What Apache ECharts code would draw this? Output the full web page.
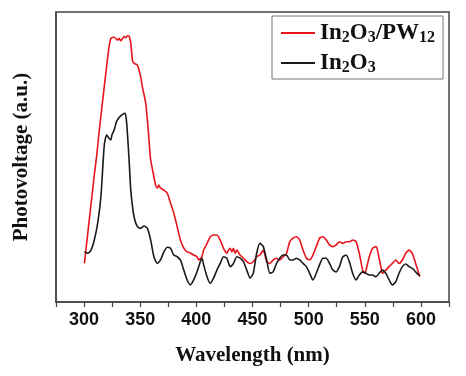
<!DOCTYPE html>
<html>
<head>
<meta charset="utf-8">
<script src="https://cdn.jsdelivr.net/npm/echarts@6/dist/echarts.min.js"></script>
<style>
html,body{margin:0;padding:0;background:#fff;}
#c{width:466px;height:376px;}
</style>
</head>
<body>
<div id="c"></div>
<script>
// Wavelength (nm) and photovoltage (a.u.)
const redWave = [300.3,309.1,311.2,313.3,316.8,319.5,322.1,323.9,326.8,329.8,331.2,332.7,334.2,335.7,337.2,338.7,340.1,341.6,343.1,344.5,347.5,350.4,351.9,354.9,356.9,357.8,359.3,362.2,363.7,365.2,366.6,368.1,371.1,374.1,377.0,379.9,382.9,385.8,388.8,391.8,394.7,397.6,400.6,402.0,405.0,406.5,409.5,412.4,415.3,418.3,421.2,424.2,427.2,428.6,430.1,431.6,433.0,434.5,436.0,438.9,441.9,444.9,447.8,450.7,453.7,456.6,459.6,462.6,465.5,468.4,471.4,474.3,477.3,480.3,483.2,486.1,489.1,492.0,495.0,498.0,500.9,503.8,506.8,509.7,512.7,515.7,518.6,521.5,524.5,527.4,530.4,533.4,536.3,539.2,542.2,545.1,548.1,549.6,551.1,554.0,556.9,559.9,561.3,564.3,565.8,568.7,571.7,574.6,577.6,580.5,583.5,586.5,589.4,592.3,595.3,599.0];
const redVal = [13.3,43.8,50.3,58.3,70.3,79.3,87.6,90.9,91.3,90.3,90.9,90.1,90.9,91.5,91.1,91.8,91.7,89.2,83.4,82.3,81.7,77.7,74.2,68.6,60.4,55.9,49.0,43.2,40.3,39.3,40.3,39.3,38.6,37.5,34.1,30.7,26.0,21.4,18.6,17.3,16.9,16.2,15.6,14.5,15.6,17.9,20.2,22.5,23.1,23.1,21.4,18.5,16.8,17.9,18.5,17.3,18.5,16.8,17.9,16.2,15.1,13.9,13.3,13.9,15.6,16.2,17.9,13.9,13.3,14.5,15.1,14.5,15.6,16.8,20.8,22.0,22.5,21.4,17.9,15.1,14.5,16.2,19.1,22.0,22.5,21.4,19.7,19.1,19.7,20.8,20.2,20.8,20.8,21.4,20.8,16.8,11.0,9.9,11.0,15.6,18.5,19.1,17.9,12.2,9.9,11.0,12.2,13.3,14.5,13.3,14.5,16.8,17.9,16.8,13.3,8.8];
const blackWave = [300.3,303.3,306.2,309.1,312.1,315.0,318.0,320.1,322.4,323.9,324.8,326.8,328.9,331.2,334.2,336.6,337.8,338.7,340.1,341.6,344.5,347.5,350.4,353.4,356.4,359.3,362.2,365.2,368.1,371.1,374.1,377.0,379.9,382.9,385.8,388.8,391.8,394.7,397.6,400.6,403.5,405.0,406.5,409.5,412.4,415.3,418.3,421.2,424.2,427.2,430.1,433.0,436.0,438.9,441.9,444.9,447.8,450.7,453.7,456.6,459.6,462.6,465.5,468.4,471.4,474.3,477.3,480.3,483.2,486.1,489.1,492.0,495.0,498.0,500.9,503.8,506.8,509.7,512.7,515.7,518.6,521.5,524.5,527.4,530.4,533.4,536.3,539.2,542.2,545.1,548.1,551.1,554.0,556.9,559.9,562.8,565.8,568.7,571.7,574.6,577.6,580.5,583.5,586.5,589.4,592.3,595.3,599.0];
const blackVal = [17.3,16.8,17.9,21.4,27.1,36.3,54.1,57.6,56.4,55.9,57.6,59.3,62.2,63.6,64.7,65.1,62.2,57.6,49.0,38.6,29.4,26.0,25.4,26.2,25.4,21.4,15.6,13.3,14.5,17.3,18.9,18.5,16.2,15.6,14.5,11.0,7.6,5.9,7.6,10.4,13.9,15.1,12.8,8.7,6.4,8.2,11.0,13.3,15.6,15.1,12.2,13.3,15.6,15.1,13.9,11.0,8.2,9.9,16.8,20.2,19.1,14.5,9.9,10.4,13.3,15.1,16.2,16.2,14.5,14.5,15.1,14.5,13.3,12.2,9.9,7.6,9.9,12.8,15.1,15.1,13.3,11.0,10.4,12.2,15.6,16.2,13.9,9.9,7.6,9.3,10.4,9.9,9.3,9.3,8.7,9.9,11.0,9.9,7.6,5.9,7.0,9.9,12.2,13.1,12.2,11.6,10.4,9.0];
const seriesNames = ['In2O3/PW12', 'In2O3'];
const xTicks = [300, 350, 400, 450, 500, 550, 600];

const zip = (a, b) => a.map((x, i) => [x, b[i]]);
const chart = echarts.init(document.getElementById('c'), null, {renderer: 'canvas'});
const serif = '"Liberation Serif", "Times New Roman", serif';
const sans = '"Liberation Sans", Arial, sans-serif';
const legendFmt = {
  'In2O3/PW12': '{n|In}{s|2}{n|O}{s|3}{n|/PW}{s|12}',
  'In2O3': '{n|In}{s|2}{n|O}{s|3}'
};
chart.setOption({
  animation: false,
  backgroundColor: '#fff',
  grid: {left: 56, top: 12, right: 17, bottom: 74, show: true, borderColor: '#444', borderWidth: 1.5},
  legend: {
    orient: 'vertical', left: 272, top: 16,
    padding: [4, 8, 3, 9], itemGap: 4,
    itemWidth: 34, itemHeight: 2, icon: 'rect',
    borderColor: '#777', borderWidth: 1,
    data: seriesNames,
    formatter: n => legendFmt[n],
    textStyle: {
      color: '#111',
      rich: {
        n: {fontFamily: serif, fontWeight: 'bold', fontSize: 23, color: '#111', lineHeight: 28},
        s: {fontFamily: serif, fontWeight: 'bold', fontSize: 16, color: '#111', lineHeight: 28, padding: [10, 0, 0, 0]}
      }
    }
  },
  xAxis: {
    type: 'value', min: 275, max: 625, interval: 25,
    name: 'Wavelength (nm)', nameLocation: 'middle', nameGap: 43,
    nameTextStyle: {fontFamily: serif, fontWeight: 'bold', fontSize: 21, color: '#111'},
    axisLine: {show: true, lineStyle: {color: '#444', width: 1.5}},
    axisTick: {show: true, inside: false, length: 5, lineStyle: {color: '#444', width: 1.2}},
    axisLabel: {
      fontFamily: sans, fontWeight: 'bold', fontSize: 18, color: '#111', margin: 9,
      formatter: v => (xTicks.indexOf(v) >= 0 ? String(v) : '')
    },
    splitLine: {show: false}
  },
  yAxis: {
    type: 'value', min: 0, max: 100,
    name: 'Photovoltage (a.u.)', nameLocation: 'middle', nameGap: 24,
    nameTextStyle: {fontFamily: serif, fontWeight: 'bold', fontSize: 21, color: '#111'},
    axisLine: {show: true, lineStyle: {color: '#444', width: 1.5}},
    axisTick: {show: false}, axisLabel: {show: false}, splitLine: {show: false}
  },
  series: [
    {name: seriesNames[0], type: 'line', symbol: 'none', smooth: 0.2, data: zip(redWave, redVal),
     lineStyle: {color: '#e8141c', width: 1.6}, itemStyle: {color: '#e8141c'}},
    {name: seriesNames[1], type: 'line', symbol: 'none', smooth: 0.2, data: zip(blackWave, blackVal),
     lineStyle: {color: '#1a1a1a', width: 1.6}, itemStyle: {color: '#1a1a1a'}}
  ]
});
</script>
</body>
</html>
